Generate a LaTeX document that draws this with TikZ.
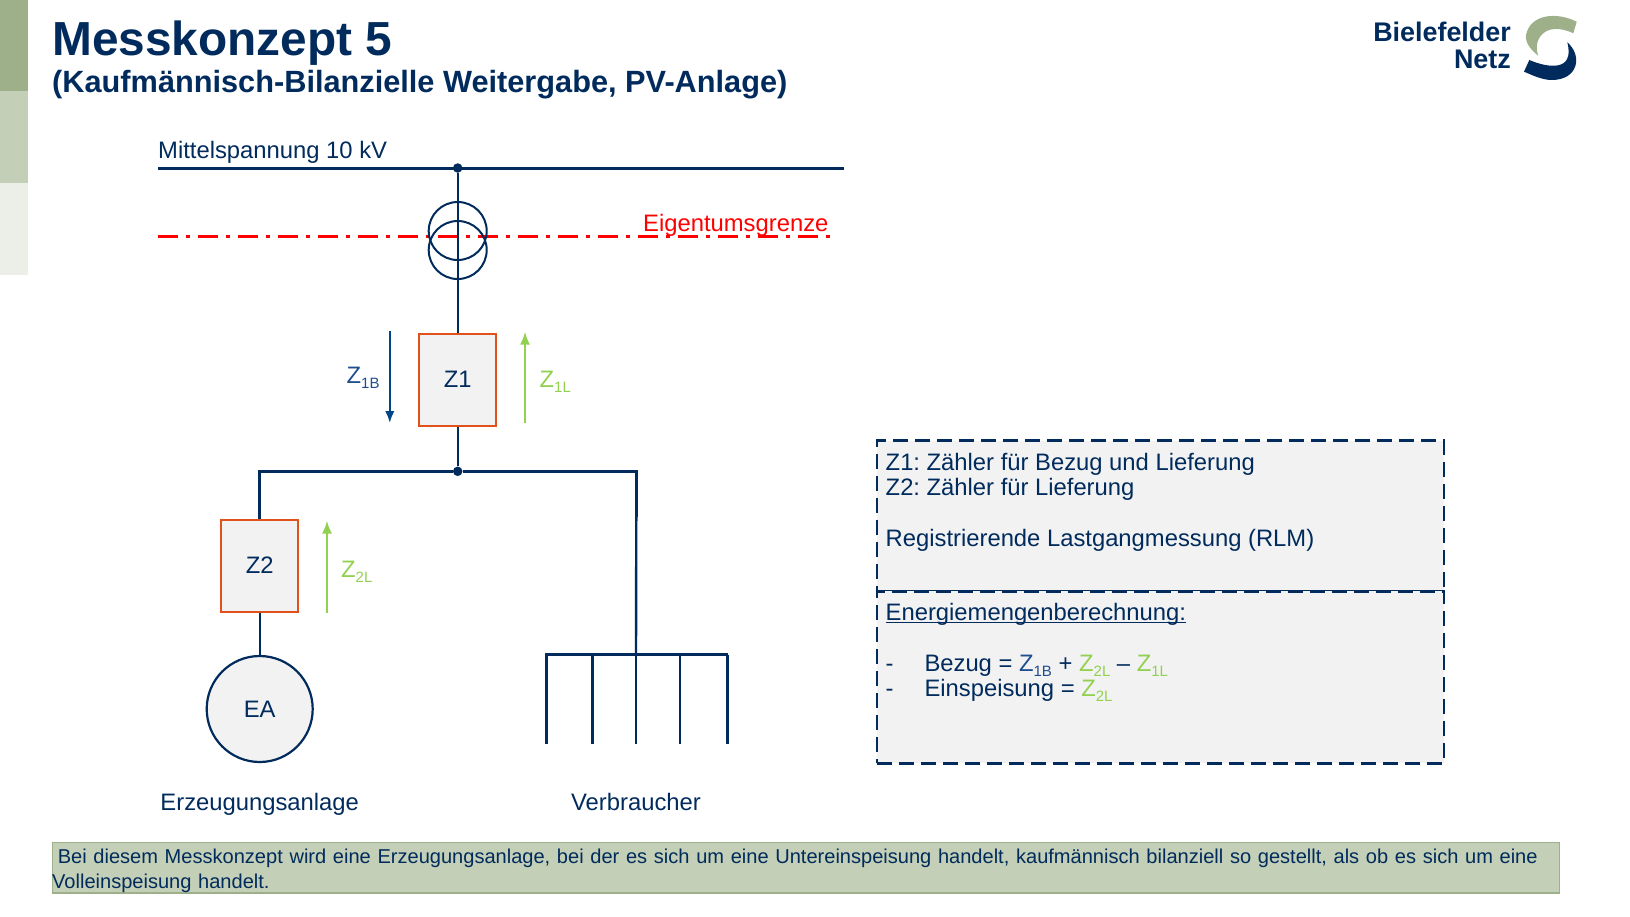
\documentclass[tikz,border=0pt]{standalone}
\usepackage{fontspec}
\setmainfont{Liberation Sans}
\usetikzlibrary{arrows.meta}
\frenchspacing

\definecolor{navy}{HTML}{002B5C}
\definecolor{zblue}{HTML}{1F4E8F}
\definecolor{zarrow}{HTML}{004587}
\definecolor{zgreen}{HTML}{92D050}
\definecolor{meterred}{HTML}{E0511B}
\definecolor{boxgray}{HTML}{F2F2F2}
\definecolor{sagedark}{HTML}{9DB08A}
\definecolor{sagemid}{HTML}{C3CFB6}
\definecolor{sagelight}{HTML}{ECEFE8}

\newcommand{\pxfont}[2]{\fontsize{#1}{#2}\selectfont}
\newcommand{\zsub}[1]{Z\raisebox{-5pt}{\pxfont{15}{16}#1}}

\tikzset{
    netline/.style={navy, line width=2.4pt},
    busline/.style={navy, line width=3pt},
    meter/.style={draw=meterred, fill=boxgray, line width=2pt, minimum width=77.5pt, minimum height=92pt, inner sep=0pt, outer sep=1pt, text=navy, font=\pxfont{23.8}{25}},
    dotnode/.style={circle, fill=navy, minimum size=9.5pt, inner sep=0pt},
    textlabel/.style={anchor=base west, inner sep=0pt, text=navy, font=\pxfont{23.8}{25}},
    infobox/.style={draw=navy, fill=boxgray, line width=2.5pt, dash pattern=on 15pt off 7pt, minimum width=567pt, inner sep=0pt, anchor=north west},
    infotext/.style={anchor=north west, inner sep=0pt, align=left, text=navy, font=\pxfont{23.8}{25.5}},
    flowdown/.style={zarrow, line width=2.2pt, -{Latex[length=12pt,width=9.5pt]}},
    flowup/.style={zgreen, line width=2.5pt, -{Latex[length=13pt,width=10pt]}},
}

\begin{document}
\begin{tikzpicture}[x=1pt, y=-1pt]
    \useasboundingbox (0,0) rectangle (1630,916);

    % --- Seitenleiste ---
    \fill[sagedark] (0,0) rectangle (28,91);
    \fill[sagemid] (0,91) rectangle (28,183);
    \fill[sagelight] (0,183) rectangle (28,275);

    % --- Titel ---
    \node[textlabel, font=\pxfont{47.8}{50}\bfseries] (title) at (52,55) {Messkonzept 5};
    \node[textlabel, font=\pxfont{30.72}{32}\bfseries] (subtitle) at (52,92) {(Kaufmännisch-Bilanzielle Weitergabe, PV-Anlage)};

    % --- Logo ---
    \node[anchor=north east, inner sep=0pt, align=right, text=navy, font=\pxfont{26.9}{27}\bfseries] (logotext) at (1511,22) {Bielefelder\\Netz};
    \fill[sagedark] (1576.7,21.7) .. controls (1555,11) and (1530,15) .. (1526,35)
        .. controls (1525,43) and (1531,50) .. (1538.3,55.7)
        .. controls (1532,40) and (1545,20) .. (1573.3,33.3) -- cycle;
    \fill[navy] (1567.3,42.3) .. controls (1583,56) and (1578,80) .. (1551.7,80)
        .. controls (1542,80) and (1532,75) .. (1524,71.7)
        -- (1529.3,60) .. controls (1548,68) and (1575,72) .. (1567.3,42.3) -- cycle;

    % --- Eigentumsgrenze ---
    \draw[red, line width=3pt, dash pattern=on 20pt off 8.3pt on 3.4pt off 8.3pt] (158,236.7) -- (830,236.7);
    \node[textlabel, text=red] (grenze) at (643,231) {Eigentumsgrenze};

    % --- Mittelspannung ---
    \node[textlabel] (mvlabel) at (158,158) {Mittelspannung 10 kV};
    \coordinate (busleft) at (158,168);
    \coordinate (busright) at (844,168);
    \draw[busline] (busleft) -- (busright);
    \node[dotnode] (mvdot) at (457.7,168) {};

    % --- Zähler ---
    \node[meter] (z1) at (457.7,379.5) {Z1};
    \node[meter] (z2) at (259.7,565.5) {Z2};
    \node[dotnode] (junction) at (457.7,471.3) {};
    \node[circle, draw=navy, fill=boxgray, line width=2.2pt, minimum size=106pt, inner sep=0pt, text=navy, font=\pxfont{23.8}{25}] (ea) at (259.7,709) {EA};

    % --- Trafo ---
    \node[circle, draw=navy, line width=2pt, minimum size=58pt, inner sep=0pt] (trafoup) at (457.7,231) {};
    \node[circle, draw=navy, line width=2pt, minimum size=58pt, inner sep=0pt] (trafodown) at (457.7,250) {};

    % --- Leitungen ---
    \draw[netline] (mvdot) -- (z1);
    \draw[netline] (z1) -- (junction);
    \coordinate (corner) at (636.3,471.3);
    \coordinate (loadtop) at (636.3,517);
    \draw[busline] (z2.north) -- (z2 |- junction) -- (junction) -- (corner) -- (loadtop);
    \draw[netline] (z2) -- (ea);

    % --- Verbraucher ---
    \coordinate (loadbus) at (636,654.6);
    \draw[netline] (loadtop) -- (loadbus);
    \draw[busline] (545.4,654.6) -- (728.4,654.6);
    \foreach \x in {546.4,592.4,636,680.2,727.4} {
        \draw[navy, line width=2.3pt] (\x,654.6) -- (\x,744);
    }

    % --- Messrichtungen ---
    \coordinate (a1top) at (389.8,331);
    \coordinate (a1bot) at (389.8,423);
    \draw[flowdown] (a1top) -- (a1bot);
    \coordinate (a2bot) at (525,423);
    \coordinate (a2top) at (525,331.5);
    \draw[flowup] (a2bot) -- (a2top);
    \coordinate (a3bot) at (327,612.7);
    \coordinate (a3top) at (327,520.5);
    \draw[flowup] (a3bot) -- (a3top);
    \node[textlabel, text=zblue] (z1b) at (346.5,383.5) {\zsub{1B}};
    \node[textlabel, text=zgreen] (z1l) at (539.5,387.5) {\zsub{1L}};
    \node[textlabel, text=zgreen] (z2l) at (341,577) {\zsub{2L}};

    % --- Beschriftungen ---
    \node[textlabel, anchor=base] (ealabel) at (259.7,810) {Erzeugungsanlage};
    \node[textlabel, anchor=base] (loadlabel) at (636,810.5) {Verbraucher};

    % --- Infokasten ---
    \node[infobox, minimum height=151pt] (infotop) at (875.5,439.3) {};
    \node[infobox, minimum height=172pt] (infobottom) at (875.5,590) {};
    \node[infotext] (infoa) at (885.5,453) {Z1: Zähler für Bezug und Lieferung\\Z2: Zähler für Lieferung\\[25.5pt]Registrierende Lastgangmessung (RLM)};
    \node[textlabel] (energy) at (885.5,620) {Energiemengenberechnung:};
    \draw[navy, line width=1.3pt] ([yshift=-2.5pt]energy.base west) -- ([yshift=-2.5pt]energy.base east);
    \node[textlabel] (bezug) at (885.5,671.7) {\makebox[38.8pt][l]{-}Bezug = \textcolor{zblue}{\zsub{1B}} + \textcolor{zgreen}{\zsub{2L}} -- \textcolor{zgreen}{\zsub{1L}}};
    \node[textlabel] (einsp) at (885.5,696.7) {\makebox[38.8pt][l]{-}Einspeisung = \textcolor{zgreen}{\zsub{2L}}};

    % --- Fußzeile ---
    \node[draw=sagedark, fill=sagemid, line width=1.5pt, minimum width=1507pt, minimum height=50.5pt, inner sep=0pt, anchor=north west] (footer) at (51.8,841.8) {};
    \node[infotext, font=\pxfont{20.05}{25}, text width=1505pt] (footertext) at (52,849) {\hspace*{5.6pt}Bei diesem Messkonzept wird eine Erzeugungsanlage, bei der es sich um eine Untereinspeisung handelt, kaufmännisch bilanziell so gestellt, als ob es sich um eine\\Volleinspeisung handelt.};
\end{tikzpicture}
\end{document}
